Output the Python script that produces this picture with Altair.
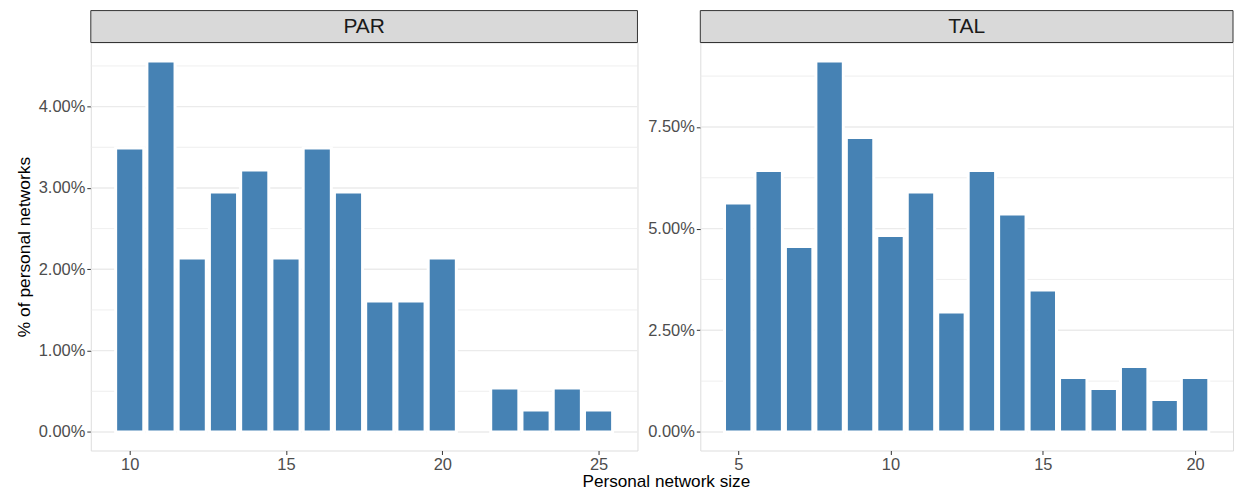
import altair as alt
import pandas as pd

# ---- data ----
par_sizes = [10, 11, 12, 13, 14, 15, 16, 17, 18, 19, 20, 22, 23, 24, 25]
par_pct = [3.49, 4.56, 2.14, 2.95, 3.22, 2.14, 3.49, 2.95, 1.61, 1.61, 2.14, 0.54, 0.27, 0.54, 0.27]

tal_sizes = [5, 6, 7, 8, 9, 10, 11, 12, 13, 14, 15, 16, 17, 18, 19, 20]
tal_pct = [5.63, 6.43, 4.56, 9.12, 7.24, 4.83, 5.90, 2.95, 6.43, 5.36, 3.49, 1.34, 1.07, 1.61, 0.80, 1.34]

par_xticks = [10, 15, 20, 25]
tal_xticks = [5, 10, 15, 20]
par_ymajor = [0, 1, 2, 3, 4]
par_yminor = [0.5, 1.5, 2.5, 3.5, 4.5]
tal_ymajor = [0, 2.5, 5, 7.5]
tal_yminor = [1.25, 3.75, 6.25, 8.75]

FONT = "Liberation Sans"
BAR = "#4682B4"
STRIP_H = 32


def panel(name, sizes, pcts, xdom, xticks, ydom, ymaj, ymin, width, height, ytitle):
    df = pd.DataFrame({"size": sizes, "pct": pcts})
    xs = alt.Scale(domain=xdom, nice=False, zero=False)
    ys = alt.Scale(domain=ydom, nice=False, zero=False)
    yaxis = alt.Axis(values=ymaj, labelExpr="format(datum.value, '.2f') + '%'",
                     grid=False, domain=False, tickColor="#333333", tickSize=4,
                     labelFontSize=16.5, labelColor="#4D4D4D", labelPadding=2,
                     labelFont=FONT, titleFont=FONT, titleFontSize=17.4,
                     titleFontWeight="normal", titleColor="#000000", titlePadding=5)
    xaxis = alt.Axis(values=xticks, format="d", grid=False, domain=False,
                     tickColor="#333333", tickSize=4, labelFontSize=16.5,
                     labelColor="#4D4D4D", labelPadding=2, labelFont=FONT,
                     labelFlush=False)

    gmaj = alt.Chart(pd.DataFrame({"g": ymaj})).mark_rule(
        color="#EBEBEB", strokeWidth=1.4).encode(
        y=alt.Y("g:Q", scale=ys, axis=yaxis, title=ytitle))
    gmin = alt.Chart(pd.DataFrame({"g": ymin})).mark_rule(
        color="#EBEBEB", strokeWidth=0.8).encode(
        y=alt.Y("g:Q", scale=ys, axis=yaxis, title=ytitle))

    bars = alt.Chart(df).transform_calculate(
        x0="datum.size - 0.45", x1="datum.size + 0.45"
    ).mark_bar(color=BAR, stroke="white", strokeWidth=3).encode(
        x=alt.X("x0:Q", scale=xs, axis=xaxis, title=""),
        x2="x1:Q",
        y=alt.Y("pct:Q", scale=ys, axis=yaxis, title=ytitle),
        y2=alt.datum(0),
    )

    lab = pd.DataFrame({"panel": [name]})
    strip = alt.Chart(lab).mark_rect(fill="#D9D9D9", stroke="#333333", strokeWidth=1).encode(
        x=alt.value(0), x2=alt.value(width), y=alt.value(-STRIP_H), y2=alt.value(0))
    stext = alt.Chart(lab).mark_text(font=FONT, fontSize=21, color="#1A1A1A",
                                     baseline="middle", align="center").encode(
        x=alt.value(width / 2), y=alt.value(-STRIP_H / 2), text="panel:N")

    return alt.layer(gmin, gmaj, bars, strip, stext).properties(width=width, height=height)


par = panel("PAR", par_sizes, par_pct, [8.755, 26.245], par_xticks,
            [-0.228, 4.788], par_ymajor, par_yminor, 548, 409, "% of personal networks")
tal = panel("TAL", tal_sizes, tal_pct, [3.755, 21.245], tal_xticks,
            [-0.456, 9.576], tal_ymajor, tal_yminor, 534, 409, "")

chart = alt.hconcat(par, tal, spacing=63, bounds="flush").properties(
    title=alt.TitleParams("Personal network size", orient="bottom", anchor="middle",
                          font=FONT, fontSize=17.2, fontWeight="normal",
                          color="#000000", offset=0, dx=42),
    padding={"left": 6, "top": 1, "right": 0, "bottom": 0},
).configure_view(stroke="#333333", strokeWidth=1).configure(background="white")

chart.save("out.html", embed_options={"renderer": "svg", "actions": False})
